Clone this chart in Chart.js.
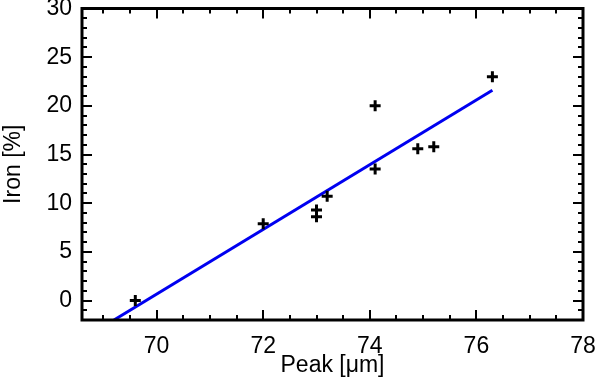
<!DOCTYPE html>
<html>
<head>
<meta charset="utf-8">
<script src="https://cdn.jsdelivr.net/npm/chart.js@4"></script>
<style>
html,body{margin:0;padding:0;background:#fff;}
#wrap{width:600px;height:392px;}
</style>
</head>
<body>
<div id="wrap"><canvas id="c" width="600" height="392"></canvas></div>
<script>
// Data
const peakValues = [69.6, 72.0, 73.0, 73.0, 73.2, 74.1, 74.1, 74.9, 75.2, 76.3];
const ironValues = [0.0, 7.9, 9.3, 8.6, 10.7, 20.0, 13.5, 15.6, 15.8, 23.0];
const fitX = [69.2, 76.3];
const fitY = [-2.0, 21.6];
const xTicks = [70, 72, 74, 76, 78];
const yTicks = [0, 5, 10, 15, 20, 25, 30];
const xMinorStep = 0.5;
const yMinorStep = 1;
const xRange = [68.6, 78];
const yRange = [-2, 30];

const FONT = "'Liberation Sans', Arial, Helvetica, sans-serif";

const boxTicks = {
  id: 'boxTicks',
  afterDatasetsDraw(chart) {
    const ctx = chart.ctx, a = chart.chartArea;
    const xs = chart.scales.x, ys = chart.scales.y;
    ctx.save();
    ctx.strokeStyle = '#000';
    ctx.lineCap = 'butt';
    ctx.lineWidth = 2;
    const majX = new Set(xTicks.map(v => v.toFixed(2)));
    const majY = new Set(yTicks.map(v => v.toFixed(2)));
    for (let v = Math.ceil(xs.min / xMinorStep) * xMinorStep; v <= xs.max + 1e-9; v += xMinorStep) {
      const p = Math.round(xs.getPixelForValue(v));
      const len = majX.has(v.toFixed(2)) ? 10 : 5;
      ctx.beginPath();
      ctx.moveTo(p, a.bottom); ctx.lineTo(p, a.bottom - len);
      ctx.moveTo(p, a.top); ctx.lineTo(p, a.top + len);
      ctx.stroke();
    }
    for (let v = Math.ceil(ys.min / yMinorStep) * yMinorStep; v <= ys.max + 1e-9; v += yMinorStep) {
      const p = Math.round(ys.getPixelForValue(v));
      const len = majY.has(v.toFixed(2)) ? 10 : 5;
      ctx.beginPath();
      ctx.moveTo(a.left, p); ctx.lineTo(a.left + len, p);
      ctx.moveTo(a.right, p); ctx.lineTo(a.right - len, p);
      ctx.stroke();
    }
    ctx.lineWidth = 3;
    ctx.strokeRect(a.left, a.top, a.right - a.left, a.bottom - a.top);
    ctx.restore();
  }
};

new Chart(document.getElementById('c'), {
  data: {
    datasets: [
      {
        type: 'line',
        data: fitX.map((x, i) => ({ x, y: fitY[i] })),
        borderColor: '#0000f0',
        borderWidth: 3,
        pointRadius: 0,
        fill: false,
        order: 2
      },
      {
        type: 'scatter',
        data: peakValues.map((x, i) => ({ x, y: ironValues[i] })),
        pointStyle: 'cross',
        pointRadius: 5.5,
        borderColor: '#000',
        backgroundColor: '#000',
        borderWidth: 3,
        order: 1
      }
    ]
  },
  options: {
    responsive: false,
    animation: false,
    layout: { padding: { top: 7, right: 17, left: 0, bottom: 0 } },
    plugins: { legend: { display: false }, tooltip: { enabled: false } },
    scales: {
      x: {
        type: 'linear',
        min: xRange[0], max: xRange[1],
        afterBuildTicks: s => { s.ticks = xTicks.map(v => ({ value: v })); },
        afterFit: s => { s.height = 72; s.paddingLeft = 0; s.paddingRight = 0; },
        grid: { display: false, drawTicks: false },
        border: { display: false },
        ticks: { color: '#000', padding: 13, font: { family: FONT, size: 23 }, maxRotation: 0 },
        title: { display: true, text: 'Peak [\u03bcm]', color: '#000', font: { family: FONT, size: 23 }, padding: { top: 0, bottom: 13 } }
      },
      y: {
        type: 'linear',
        min: yRange[0], max: yRange[1],
        afterBuildTicks: s => { s.ticks = yTicks.map(v => ({ value: v })); },
        afterFit: s => { s.width = 82; s.paddingTop = 0; s.paddingBottom = 0; },
        grid: { display: false, drawTicks: false },
        border: { display: false },
        ticks: { color: '#000', padding: 10, font: { family: FONT, size: 23 } },
        title: { display: true, text: 'Iron [%]', color: '#000', font: { family: FONT, size: 23 }, padding: { top: 0, bottom: 0 } }
      }
    }
  },
  plugins: [boxTicks]
});
</script>
</body>
</html>
